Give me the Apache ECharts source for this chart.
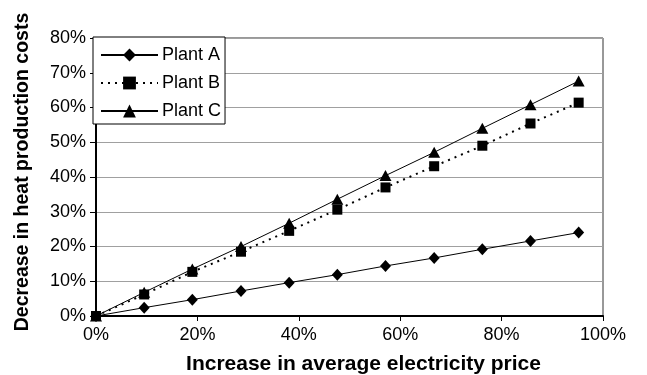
<!DOCTYPE html>
<html>
<head>
<meta charset="utf-8">
<script src="https://cdn.jsdelivr.net/npm/echarts@6/dist/echarts.min.js"></script>
<style>
  html, body { margin: 0; padding: 0; background: #fff; }
  #chart { width: 647px; height: 375px; }
</style>
</head>
<body>
<div id="chart"></div>
<script>
const chart = echarts.init(document.getElementById('chart'));

// increase in average electricity price (%)
const priceIncrease = [0, 9.5, 19.0, 28.6, 38.1, 47.6, 57.1, 66.7, 76.2, 85.7, 95.2];
// decrease in heat production costs (%)
const plantA = [0, 2.4, 4.7, 7.2, 9.6, 11.9, 14.4, 16.7, 19.2, 21.6, 24.0];
const plantB = [0, 6.2, 12.7, 18.5, 24.5, 30.6, 37.0, 43.1, 49.0, 55.4, 61.4];
const plantC = [0, 6.8, 13.5, 20.0, 26.7, 33.6, 40.4, 47.1, 54.0, 60.8, 67.6];
const seriesNames = ['Plant A', 'Plant B', 'Plant C'];

const font = 'Liberation Sans, Arial, sans-serif';
const pairs = (ys) => priceIncrease.map((x, i) => [x, ys[i]]);

chart.setOption({
  animation: false,
  backgroundColor: '#fff',
  textStyle: { fontFamily: font, color: '#000' },
  grid: {
    left: 96, right: 44, top: 38, bottom: 59,
    outerBoundsMode: 'none',
    show: true, borderColor: '#333', borderWidth: 1
  },
  legend: {
    data: seriesNames,
    orient: 'vertical',
    left: 93,
    top: 37,
    itemWidth: 57,
    itemHeight: 16,
    itemGap: 10,
    padding: [9, 4, 4, 7],
    backgroundColor: '#fff',
    borderColor: '#000',
    borderWidth: 1,
    borderRadius: 0,
    textStyle: { fontSize: 18, color: '#000', fontFamily: font, padding: [0, 0, 0, -1] }
  },
  xAxis: {
    type: 'value',
    min: 0,
    max: 100,
    interval: 20,
    name: 'Increase in average electricity price',
    nameLocation: 'middle',
    nameGap: 38,
    nameTextStyle: { fontSize: 21, fontWeight: 'bold', color: '#000', padding: [0, 0, 0, 28] },
    axisLine: { lineStyle: { color: '#000', width: 2 } },
    axisTick: { show: true, length: 5, lineStyle: { color: '#000', width: 1 } },
    axisLabel: { formatter: '{value}%', fontSize: 18, color: '#000', margin: 10 },
    splitLine: { show: false }
  },
  yAxis: {
    type: 'value',
    min: 0,
    max: 80,
    interval: 10,
    name: 'Decrease in heat production costs',
    nameLocation: 'middle',
    nameGap: 63,
    nameTextStyle: { fontSize: 19.5, fontWeight: 'bold', color: '#000', padding: [0, 0, 0, 10] },
    axisLine: { show: true, lineStyle: { color: '#000', width: 2 } },
    axisTick: { show: true, length: 6, lineStyle: { color: '#000', width: 1 } },
    axisLabel: { formatter: '{value}%', fontSize: 18, color: '#000', margin: 10 },
    splitLine: { show: true, lineStyle: { color: '#a0a0a0', width: 1 } }
  },
  series: [
    {
      name: 'Plant A',
      type: 'line',
      data: pairs(plantA),
      symbol: 'diamond',
      symbolSize: [11, 12],
      itemStyle: { color: '#000' },
      lineStyle: { color: '#000', width: 1 }
    },
    {
      name: 'Plant B',
      type: 'line',
      data: pairs(plantB),
      symbol: 'rect',
      symbolSize: 10,
      itemStyle: { color: '#000' },
      lineStyle: { color: '#000', width: 2, type: [2, 5] }
    },
    {
      name: 'Plant C',
      type: 'line',
      data: pairs(plantC),
      symbol: 'triangle',
      symbolSize: [12, 11],
      itemStyle: { color: '#000' },
      lineStyle: { color: '#000', width: 1 }
    }
  ]
});
</script>
</body>
</html>
